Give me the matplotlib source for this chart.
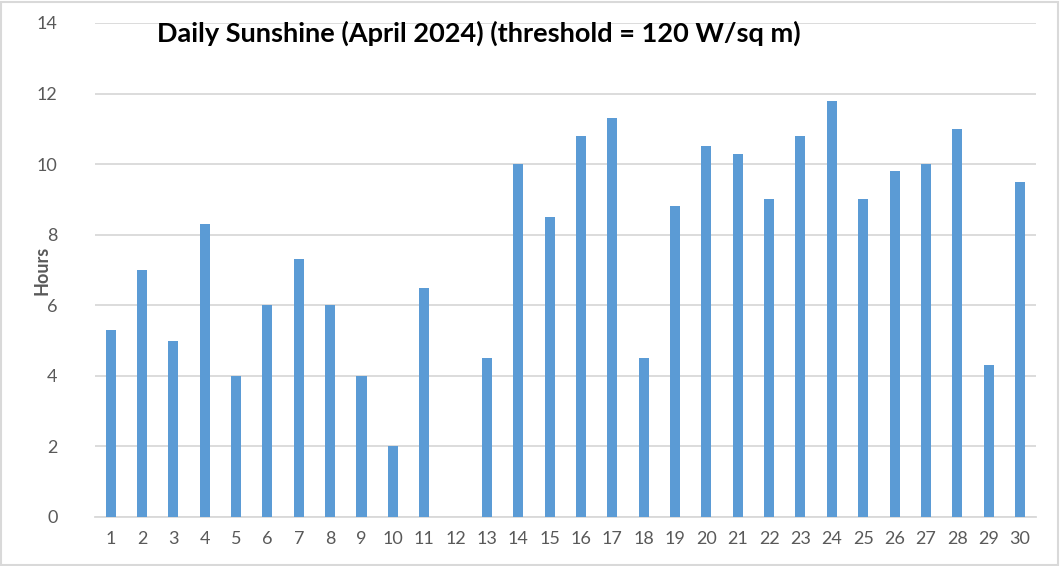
import numpy as np
import matplotlib
matplotlib.use("Agg")
import matplotlib.pyplot as plt
from matplotlib.patches import Rectangle

# data
days = list(range(1, 31))
hours = [5.3, 7.0, 5.0, 8.3, 4.0, 6.0, 7.3, 6.0, 4.0, 2.0,
         6.5, 0.0, 4.5, 10.0, 8.5, 10.8, 11.3, 4.5, 8.8, 10.5,
         10.3, 9.0, 10.8, 11.8, 9.0, 9.8, 10.0, 11.0, 4.3, 9.5]
yticks = [0, 2, 4, 6, 8, 10, 12, 14]

plt.rcParams['font.family'] = ['Lato', 'DejaVu Sans']

fig = plt.figure(figsize=(10.6, 5.66), dpi=100)
ax = fig.add_axes([0.0896, 0.0866, 0.8874, 0.8728])

x = np.arange(len(days))
ax.bar(x, hours, width=0.32, color="#5B9BD5", zorder=3)

ax.set_xlim(-0.5, len(days) - 0.5)
ax.set_ylim(0, 14)
ax.set_yticks(yticks)
ax.set_xticks(x)
ax.set_xticklabels([str(d) for d in days])
ax.yaxis.grid(True, color="#D9D9D9", linewidth=1.3, zorder=0)
ax.tick_params(axis="both", length=0, labelsize=13, colors="#595959")
ax.tick_params(axis="y", pad=27)
ax.tick_params(axis="x", pad=10)
for s in ["top", "right", "left"]:
    ax.spines[s].set_visible(False)
ax.spines["bottom"].set_color("#D9D9D9")
ax.spines["bottom"].set_linewidth(1.3)

ax.set_ylabel("Hours", fontsize=13, fontweight="bold", color="#595959")
ax.yaxis.set_label_coords(-0.047, 0.5)

fig.text(0.452, 0.941, "Daily Sunshine (April 2024) (threshold = 120 W/sq m)",
         fontsize=19.5, fontweight="bold", ha="center", va="center", color="black")

# outer chart border
fig.patches.append(Rectangle((0.001, 0.002), 0.997, 0.995, transform=fig.transFigure,
                             fill=False, edgecolor="#D9D9D9", linewidth=1.5))

fig.savefig("out.png", dpi=100)
